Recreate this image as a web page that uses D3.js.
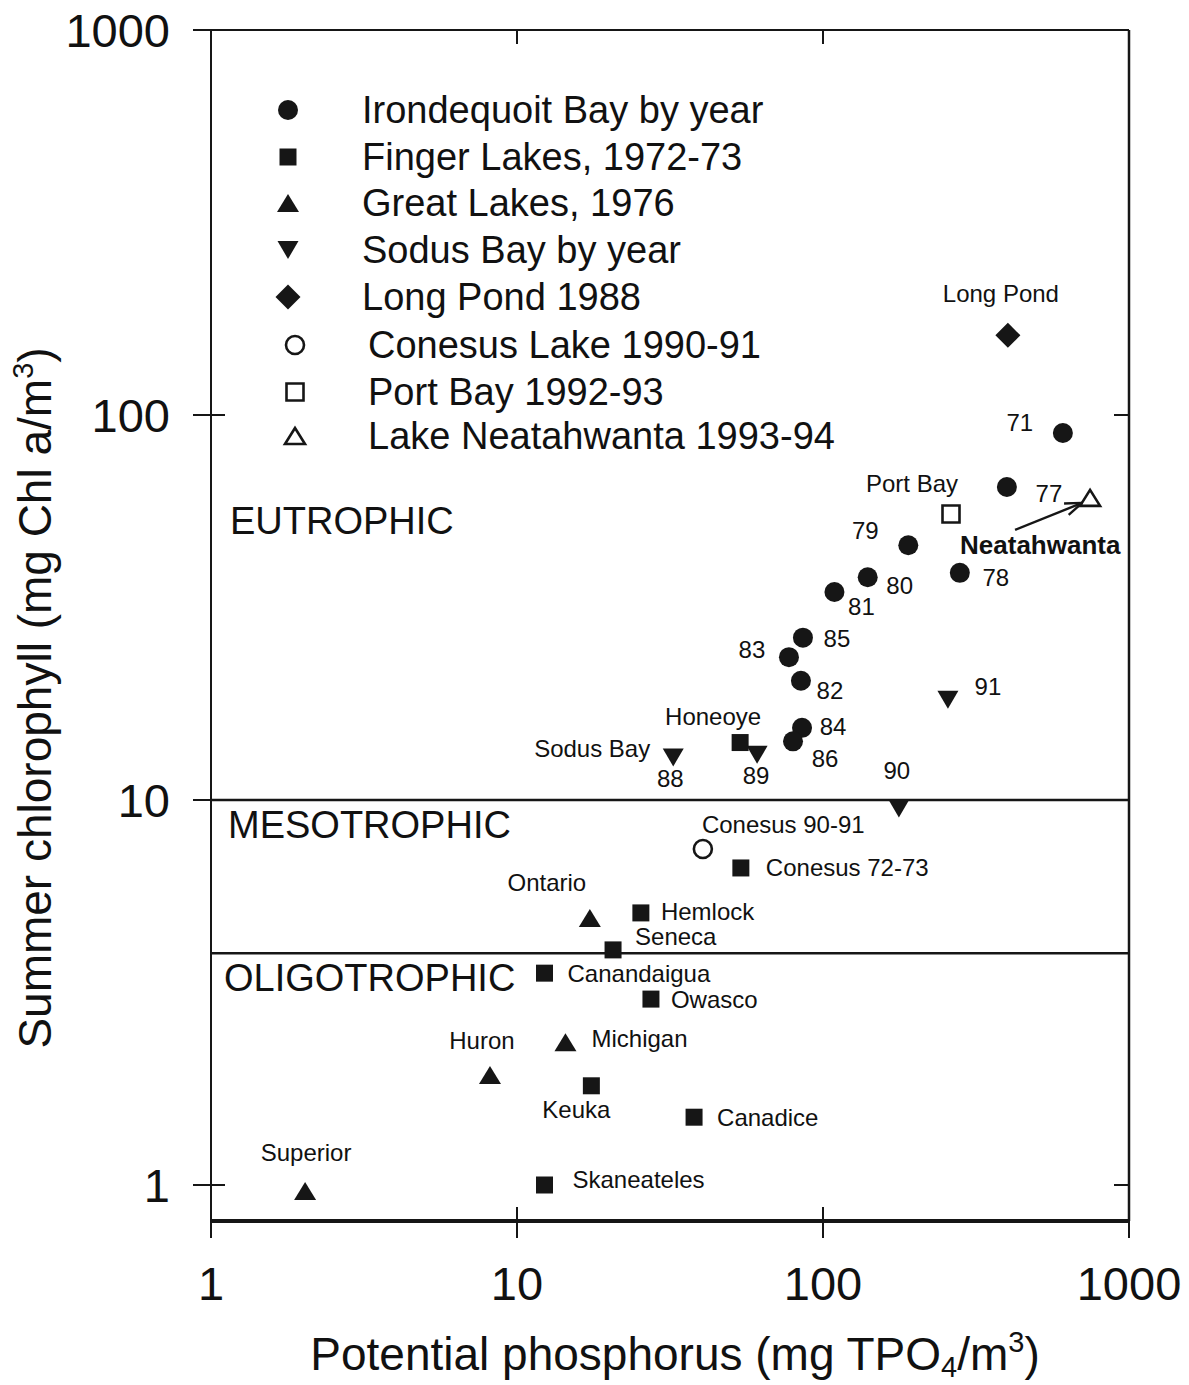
<!DOCTYPE html>
<html>
<head>
<meta charset="utf-8">
<script src="https://cdn.jsdelivr.net/npm/d3@7"></script>
<style>
  body { margin: 0; background: #fff; }
  svg text { font-family: "Liberation Sans", Arial, sans-serif; fill: #111; }
</style>
</head>
<body>
<svg id="chart" width="1189" height="1385"></svg>
<script>
// ---- data ----
const irondequoitYears = ["71", "77", "78", "79", "80", "81", "82", "83", "84", "85", "86"];
const irondequoitP = [608, 399, 280, 190, 140, 109, 84.7, 77.4, 85.4, 86.0, 79.8];
const irondequoitChl = [89.8, 65.0, 38.9, 45.9, 37.9, 34.7, 20.4, 23.5, 15.4, 26.4, 14.2];

const sodusYears = ["88", "89", "90", "91"];
const sodusP = [32.4, 60.9, 177, 256];
const sodusChl = [12.9, 13.1, 9.5, 18.2];

const fingerLakes = ["Honeoye", "Conesus 72-73", "Hemlock", "Seneca", "Canandaigua", "Owasco", "Keuka", "Canadice", "Skaneateles"];
const fingerP = [53.6, 53.9, 25.4, 20.6, 12.3, 27.4, 17.5, 37.9, 12.3];
const fingerChl = [14.1, 6.66, 5.09, 4.08, 3.55, 3.04, 1.81, 1.50, 1.0];

const greatLakes = ["Ontario", "Michigan", "Huron", "Superior"];
const greatP = [17.3, 14.4, 8.16, 2.03];
const greatChl = [4.94, 2.35, 1.93, 0.965];

const longPondP = [402], longPondChl = [161];
const conesusP = [40.5], conesusChl = [7.46];
const portBayP = [262], portBayChl = [55.3];
const neatahwantaP = [746], neatahwantaChl = [60.9];

const xTicks = [1, 10, 100, 1000];
const yTicks = [1, 10, 100, 1000];
const trophicBounds = [10, 4];
const trophicNames = ["EUTROPHIC", "MESOTROPHIC", "OLIGOTROPHIC"];

const legendLabels = ["Irondequoit Bay by year", "Finger Lakes, 1972-73", "Great Lakes, 1976",
  "Sodus Bay by year", "Long Pond 1988", "Conesus Lake 1990-91", "Port Bay 1992-93",
  "Lake Neatahwanta 1993-94"];
const legendShapes = ["circle", "square", "triUp", "triDown", "diamond", "openCircle", "openSquare", "openTri"];

// label placement (pixel offsets from the point: dx, dy, anchor)
const labelPos = {
  "71": [-43, -10, "middle"], "77": [42, 6, "middle"], "78": [36, 5, "middle"],
  "79": [-43, -15, "middle"], "80": [32, 8, "middle"], "81": [27, 15, "middle"],
  "82": [29, 10, "middle"], "83": [-37, -8, "middle"], "84": [31, -1, "middle"],
  "85": [34, 1, "middle"], "86": [32, 17, "middle"],
  "88": [-3, 21, "middle"], "89": [-1, 21, "middle"], "90": [-2, -38, "middle"], "91": [40, -13, "middle"],
  "Honeoye": [-27, -26, "middle"], "Conesus 72-73": [25, 0, "start"], "Hemlock": [20, -1, "start"],
  "Seneca": [22, -13, "start"], "Canandaigua": [23, 0, "start"], "Owasco": [20, 0, "start"],
  "Keuka": [-15, 24, "middle"], "Canadice": [23, 0, "start"], "Skaneateles": [28, -6, "start"],
  "Ontario": [-43, -35, "middle"], "Michigan": [26, -4, "start"], "Huron": [-8, -35, "middle"],
  "Superior": [1, -38, "middle"]
};

// ---- layout ----
const svg = d3.select("#chart");
const plotLeft = 211, plotRight = 1129, plotTop = 30, plotBottom = 1221;

const x = d3.scaleLog().domain([1, 1000]).range([plotLeft, plotRight]);
const y = d3.scaleLog().domain([1, 1000]).range([1185, plotTop]);

const ink = "#161616";

function shape(type) {
  switch (type) {
    case "circle": return d3.symbol(d3.symbolCircle, Math.PI * 100)();
    case "square": return "M-8.5,-8.5H8.5V8.5H-8.5Z";
    case "triUp": return "M0,-9L11,9L-11,9Z";
    case "triDown": return "M-10.5,-9L10.5,-9L0,9Z";
    case "diamond": return "M0,-12.5L12.5,0L0,12.5L-12.5,0Z";
    case "openCircle": return d3.symbol(d3.symbolCircle, Math.PI * 81)();
    case "openSquare": return "M-8.5,-8.5H8.5V8.5H-8.5Z";
    case "openTri": return "M0,-8L10,8L-10,8Z";
  }
}
function isOpen(type) { return type.startsWith("open"); }

function drawMarker(g, type, px, py) {
  g.append("path")
    .attr("d", shape(type))
    .attr("transform", `translate(${px},${py})`)
    .attr("fill", isOpen(type) ? "#fff" : ink)
    .attr("stroke", ink)
    .attr("stroke-width", isOpen(type) ? 2.6 : 0);
}

// ---- frame ----
svg.append("rect").attr("width", 1189).attr("height", 1385).attr("fill", "#fff");

const frame = svg.append("g").attr("stroke", ink).attr("fill", "none");
frame.append("line").attr("x1", plotLeft).attr("x2", plotRight).attr("y1", plotTop).attr("y2", plotTop).attr("stroke-width", 2);
frame.append("line").attr("x1", plotLeft).attr("x2", plotLeft).attr("y1", plotTop).attr("y2", plotBottom).attr("stroke-width", 2);
frame.append("line").attr("x1", plotRight).attr("x2", plotRight).attr("y1", plotTop).attr("y2", plotBottom).attr("stroke-width", 2.5);
frame.append("line").attr("x1", plotLeft).attr("x2", plotRight + 1).attr("y1", plotBottom).attr("y2", plotBottom).attr("stroke-width", 4);

// trophic boundaries
frame.selectAll("line.bound")
  .data(trophicBounds)
  .join("line")
  .attr("class", "bound")
  .attr("x1", plotLeft).attr("x2", plotRight)
  .attr("y1", d => y(d)).attr("y2", d => y(d))
  .attr("stroke-width", 2.5);

// ticks
const ticks = svg.append("g").attr("stroke", ink).attr("stroke-width", 2);
ticks.selectAll("line.yl").data(yTicks).join("line")
  .attr("x1", plotLeft - 18).attr("x2", d => d === 1000 ? plotLeft : plotLeft + 14)
  .attr("y1", d => y(d)).attr("y2", d => y(d));
ticks.append("g").selectAll("line").data([1, 100]).join("line")
  .attr("x1", plotRight - 15).attr("x2", plotRight)
  .attr("y1", d => y(d)).attr("y2", d => y(d));
ticks.append("g").selectAll("line").data(xTicks).join("line")
  .attr("x1", d => x(d)).attr("x2", d => x(d))
  .attr("y1", plotBottom - 14).attr("y2", plotBottom + 17);
ticks.append("g").selectAll("line").data([10, 100]).join("line")
  .attr("x1", d => x(d)).attr("x2", d => x(d))
  .attr("y1", plotTop).attr("y2", plotTop + 14);

// tick labels
svg.append("g").selectAll("text").data(yTicks).join("text")
  .attr("x", 170).attr("y", d => y(d))
  .attr("text-anchor", "end").attr("dominant-baseline", "central")
  .style("font-size", "47px")
  .text(d3.format("d"));
svg.append("g").selectAll("text").data(xTicks).join("text")
  .attr("x", d => x(d)).attr("y", 1283)
  .attr("text-anchor", "middle").attr("dominant-baseline", "central")
  .style("font-size", "47px")
  .text(d3.format("d"));

// axis titles
const xt = svg.append("text").attr("x", 675).attr("y", 1370)
  .attr("text-anchor", "middle").style("font-size", "46px");
xt.append("tspan").text("Potential phosphorus (mg TPO");
xt.append("tspan").attr("dy", 7).style("font-size", "29px").text("4");
xt.append("tspan").attr("dy", -7).text("/m");
xt.append("tspan").attr("dy", -18).style("font-size", "29px").text("3");
xt.append("tspan").attr("dy", 18).text(")");

const yt = svg.append("text").attr("transform", "translate(51,698) rotate(-90)")
  .attr("text-anchor", "middle").style("font-size", "46px");
yt.append("tspan").text("Summer chlorophyll (mg Chl a/m");
yt.append("tspan").attr("dy", -18).style("font-size", "29px").text("3");
yt.append("tspan").attr("dy", 18).text(")");

// trophic state names
const trophicY = [521, 825, 978];
const trophicX = [230, 228, 224];
svg.append("g").selectAll("text").data(trophicNames).join("text")
  .attr("x", (d, i) => trophicX[i]).attr("y", (d, i) => trophicY[i])
  .attr("dominant-baseline", "central")
  .style("font-size", "38px")
  .text(d => d);

// ---- points ----
const pts = svg.append("g");
const labels = svg.append("g").style("font-size", "24px");

function series(names, px, py, type) {
  names.forEach((n, i) => {
    const cx = x(px[i]), cy = y(py[i]);
    drawMarker(pts, type, cx, cy);
    if (n && labelPos[n]) {
      const [dx, dy, anchor] = labelPos[n];
      labels.append("text")
        .attr("x", cx + dx).attr("y", cy + dy)
        .attr("text-anchor", anchor).attr("dominant-baseline", "central")
        .text(n);
    }
  });
}

series(irondequoitYears, irondequoitP, irondequoitChl, "circle");
series(sodusYears, sodusP, sodusChl, "triDown");
series(fingerLakes, fingerP, fingerChl, "square");
series(greatLakes, greatP, greatChl, "triUp");
series([null], longPondP, longPondChl, "diamond");
series([null], conesusP, conesusChl, "openCircle");
series([null], portBayP, portBayChl, "openSquare");
series([null], neatahwantaP, neatahwantaChl, "openTri");

// single-site labels
function note(text, px, py, dx, dy, anchor, bold) {
  labels.append("text")
    .attr("x", x(px) + dx).attr("y", y(py) + dy)
    .attr("text-anchor", anchor).attr("dominant-baseline", "central")
    .style("font-weight", bold ? "bold" : null)
    .style("font-size", bold ? "26px" : null)
    .text(text);
}
note("Sodus Bay", sodusP[0], sodusChl[0], -23, -9, "end");
note("Long Pond", longPondP[0], longPondChl[0], -7, -42, "middle");
note("Port Bay", portBayP[0], portBayChl[0], -39, -31, "middle");
note("Conesus 90-91", conesusP[0], conesusChl[0], -1, -24, "start");
note("Neatahwanta", neatahwantaP[0], neatahwantaChl[0], -130, 47, "start", true);

// arrow to Neatahwanta
const nx = x(neatahwantaP[0]), ny = y(neatahwantaChl[0]);
const tip = [nx - 8, ny + 5], tail = [nx - 75, ny + 32];
const ang = Math.atan2(tip[1] - tail[1], tip[0] - tail[0]);
const arrow = svg.append("g").attr("stroke", ink).attr("stroke-width", 2.4).attr("fill", "none");
arrow.append("line").attr("x1", tail[0]).attr("y1", tail[1]).attr("x2", tip[0]).attr("y2", tip[1]);
[0.35, -0.35].forEach(a => {
  arrow.append("line")
    .attr("x1", tip[0]).attr("y1", tip[1])
    .attr("x2", tip[0] - 18 * Math.cos(ang + a))
    .attr("y2", tip[1] - 18 * Math.sin(ang + a));
});

// ---- legend ----
const legendY = [110, 157, 203, 250, 297, 345, 392, 436];
const legend = svg.append("g");
legendLabels.forEach((lab, i) => {
  const open = isOpen(legendShapes[i]);
  drawMarker(legend, legendShapes[i], open ? 295 : 288, legendY[i]);
  legend.append("text")
    .attr("x", open ? 368 : 362).attr("y", legendY[i])
    .attr("dominant-baseline", "central")
    .style("font-size", "38px")
    .text(lab);
});
</script>
</body>
</html>
